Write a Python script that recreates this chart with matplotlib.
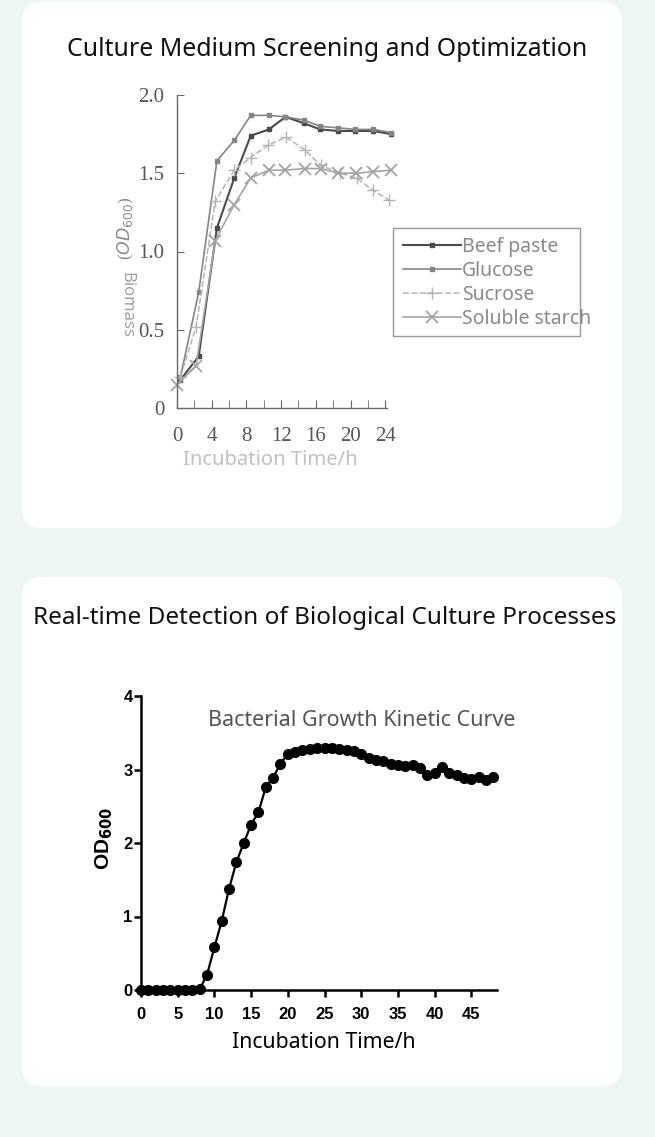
import matplotlib as mpl
import matplotlib.pyplot as plt
from matplotlib.patches import FancyBboxPatch, Rectangle
import numpy as np
mpl.use('Agg')

# ---- data: culture medium screening (top panel) ----
t_top = [0.4, 2.5, 4.6, 6.6, 8.5, 10.6, 12.5, 14.6, 16.5, 18.6, 20.5, 22.6, 24.7]
beef_paste = [0.18, 0.33, 1.15, 1.47, 1.74, 1.78, 1.86, 1.82, 1.78, 1.77, 1.77, 1.77, 1.75]
glucose = [0.2, 0.74, 1.58, 1.71, 1.87, 1.87, 1.86, 1.84, 1.80, 1.79, 1.78, 1.78, 1.76]
t_sucrose = [0.4, 2.2, 4.4, 6.6, 8.5, 10.5, 12.6, 14.7, 16.6, 18.8, 20.7, 22.6, 24.4]
sucrose = [0.2, 0.52, 1.32, 1.52, 1.60, 1.68, 1.73, 1.65, 1.55, 1.50, 1.47, 1.39, 1.33]
t_starch = [0.0, 2.2, 4.4, 6.6, 8.5, 10.6, 12.5, 14.7, 16.6, 18.6, 20.6, 22.6, 24.7]
soluble_starch = [0.15, 0.27, 1.07, 1.30, 1.47, 1.52, 1.52, 1.53, 1.53, 1.50, 1.50, 1.51, 1.52]
top_xticks = [0, 4, 8, 12, 16, 20, 24]
top_yticks = [0, 0.5, 1.0, 1.5, 2.0]
top_yticklabels = ['0', '0.5', '1.0', '1.5', '2.0']

# ---- data: bacterial growth kinetic curve (bottom panel) ----
t_growth = list(range(0, 49))
od600 = [0, 0, 0, 0, 0, 0, 0, 0, 0.01,
         0.21, 0.58, 0.94, 1.38, 1.74, 2.0, 2.25, 2.42, 2.76, 2.89, 3.08,
         3.21, 3.24, 3.27, 3.28, 3.29, 3.29, 3.29, 3.28, 3.27, 3.25,
         3.21, 3.15, 3.13, 3.12, 3.08, 3.06, 3.05, 3.06, 3.02, 2.93,
         2.95, 3.03, 2.95, 2.92, 2.88, 2.87, 2.90, 2.86, 2.90]

W, H = 655, 1137
fig = plt.figure(figsize=(W / 100, H / 100), dpi=100)
fig.patch.set_facecolor('#eef6f4')

def px_axes(left, top, right, bottom):
    return fig.add_axes([left / W, 1 - bottom / H, (right - left) / W, (bottom - top) / H])

# background with the two white cards
bg = fig.add_axes([0, 0, 1, 1])
bg.set_xlim(0, W)
bg.set_ylim(H, 0)
bg.axis('off')
for (y0, y1) in [(2, 528), (577, 1086)]:
    bg.add_patch(FancyBboxPatch((22, y0), 600, y1 - y0,
                                boxstyle='round,pad=0,rounding_size=20',
                                fc='white', ec='none'))

title_font = 'Noto Sans'
bg.text(327, 50, 'Culture Medium Screening and Optimization', ha='center', va='center',
        fontsize=17.9, family=title_font, color='#111')
bg.text(325, 618, 'Real-time Detection of Biological Culture Processes', ha='center',
        va='center', fontsize=17.5, family=title_font, color='#111')

# ---- top chart ----
ax1 = px_axes(177, 95, 387, 408)
ax1.set_facecolor('none')
ax1.plot(t_top, beef_paste, color='#4a4a4a', lw=1.5, marker='s', ms=3.5,
         label='Beef paste', clip_on=False)
ax1.plot(t_top, glucose, color='#858585', lw=1.2, marker='s', ms=3,
         label='Glucose', clip_on=False)
ax1.plot(t_sucrose, sucrose, color='#b4b4b4', lw=1.1, ls=(0, (4, 1.5)), marker='+',
         ms=8, label='Sucrose', clip_on=False)
ax1.plot(t_starch, soluble_starch, color='#a4a4a4', lw=1.2, marker='x', ms=9,
         mew=1.3, label='Soluble starch', clip_on=False)
ax1.set_xlim(0, 24.2)
ax1.set_ylim(0, 2.0)
ax1.spines['top'].set_visible(False)
ax1.spines['right'].set_visible(False)
for s in ['left', 'bottom']:
    ax1.spines[s].set_color('#666')
    ax1.spines[s].set_linewidth(1.0)
ax1.set_xticks(top_xticks)
ax1.set_xticks(range(0, 25, 2), minor=True)
ax1.set_yticks(top_yticks)
ax1.set_yticklabels(top_yticklabels)
ax1.tick_params(axis='both', which='both', direction='in', color='#666',
                labelcolor='#555', labelsize=15)
ax1.tick_params(axis='x', which='both', length=6, pad=14)
ax1.tick_params(axis='y', length=5, pad=9)
for lab in ax1.get_xticklabels() + ax1.get_yticklabels():
    lab.set_family('Liberation Serif')
bg.text(270, 460, 'Incubation Time/h', ha='center', va='center', fontsize=14.5,
        color='#c0c0c0', family=title_font)
bg.text(126, 305, 'Biomass', rotation=-90, ha='center', va='center', fontsize=12,
        color='#a0a0a0', family=title_font)
bg.text(126, 228, r'($OD_{600}$)', rotation=90, ha='center', va='center', fontsize=12.5,
        color='#8a8a8a', family='Liberation Serif')
bg.add_patch(Rectangle((393, 228), 187, 108, fc='white', ec='#999', lw=1.0))
leg = ax1.legend(loc='upper left', bbox_to_anchor=((403 - 177) / 210, 1 - (237 - 95) / 313),
                 frameon=False, fontsize=14, handlelength=3.0, handletextpad=0.05,
                 labelspacing=0.2, borderpad=0, borderaxespad=0)
for txt in leg.get_texts():
    txt.set_color('#8a8a8a')
    txt.set_family(title_font)

# ---- bottom chart ----
ax2 = px_axes(141, 696, 497, 990)
ax2.set_facecolor('none')
ax2.plot(t_growth, od600, color='black', lw=1.6, marker='o', ms=7, clip_on=False)
ax2.set_xlim(0, 48.5)
ax2.set_ylim(0, 4)
ax2.spines['top'].set_visible(False)
ax2.spines['right'].set_visible(False)
for s in ['left', 'bottom']:
    ax2.spines[s].set_linewidth(1.8)
ax2.set_xticks(range(0, 46, 5))
ax2.set_yticks(range(0, 5))
ax2.tick_params(axis='both', width=1.8, length=5, labelsize=12)
ax2.tick_params(axis='y', pad=1)
ax2.tick_params(axis='x', pad=7)
for lab in ax2.get_xticklabels() + ax2.get_yticklabels():
    lab.set_family('Liberation Sans')
    lab.set_fontweight('bold')
bg.text(104, 838, r'OD$_{\mathbf{600}}$', rotation=90, ha='center', va='center',
        fontsize=15, fontweight='bold', family='Liberation Sans')
bg.text(324, 1043, 'Incubation Time/h', ha='center', va='center', fontsize=15.3,
        family=title_font)
bg.text(362, 720, 'Bacterial Growth Kinetic Curve', ha='center', va='center',
        fontsize=15.5, color='#555', family=title_font)

fig.savefig('out.png', dpi=100, facecolor=fig.get_facecolor())
